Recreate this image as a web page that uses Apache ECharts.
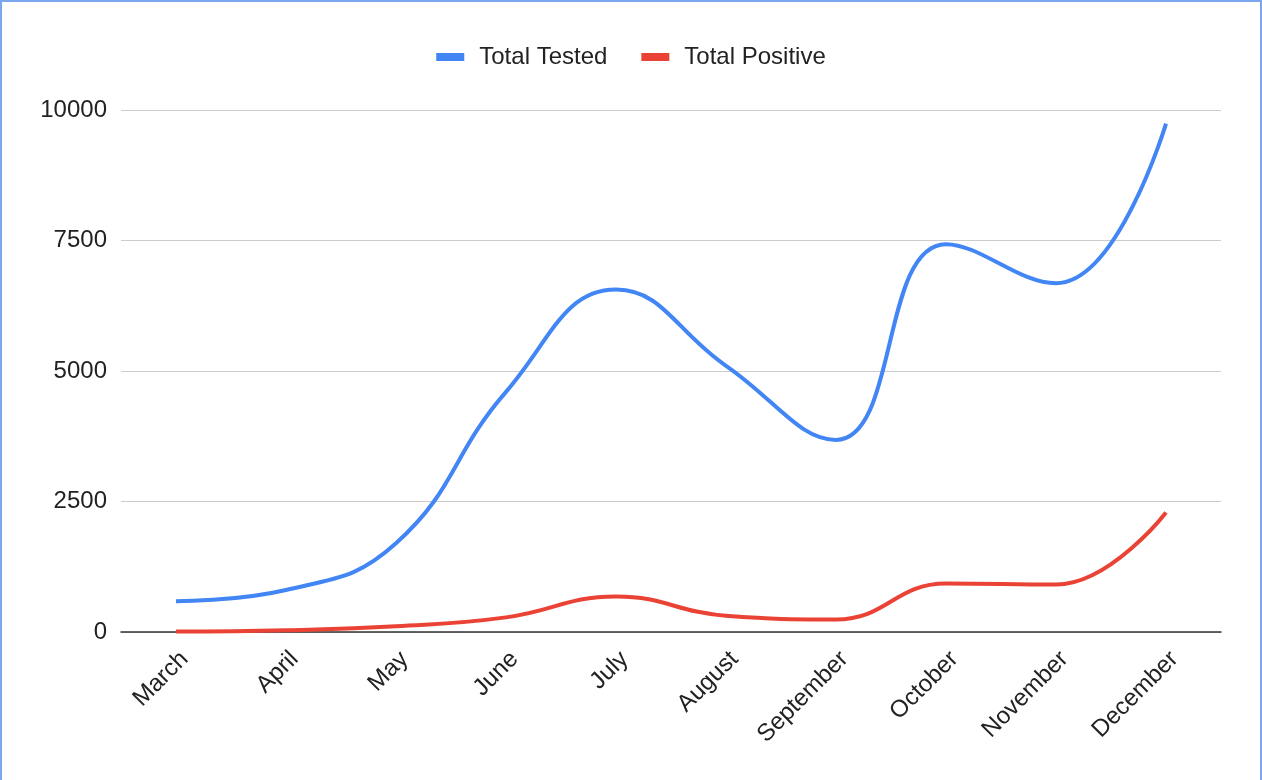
<!DOCTYPE html>
<html>
<head>
<meta charset="utf-8">
<script src="https://cdn.jsdelivr.net/npm/echarts@6/dist/echarts.min.js"></script>
<style>
html,body{margin:0;padding:0;background:#fff;}
#wrap{position:absolute;left:0;top:0;width:1262px;height:780px;box-sizing:border-box;border:2px solid #7ba7f0;border-bottom:none;}
#c{position:absolute;left:0;top:0;width:1262px;height:780px;}
</style>
</head>
<body>
<div id="wrap"></div>
<div id="c"></div>
<script>
const categories = ['March','April','May','June','July','August','September','October','November','December'];
const totalTested = [590, 805, 1700, 4600, 6560, 5100, 3680, 7430, 6680, 9740];
const totalPositive = [10, 35, 110, 280, 680, 310, 240, 930, 910, 2290];
const yTicks = [0, 2500, 5000, 7500, 10000];

const FONT = 'Liberation Sans, Arial, sans-serif';
const chart = echarts.init(document.getElementById('c'));
chart.setOption({
  animation: false,
  backgroundColor: 'transparent',
  legend: {
    top: 40,
    left: 'center',
    itemWidth: 28,
    itemHeight: 8,
    itemGap: 34,
    icon: 'rect',
    textStyle: {fontFamily: FONT, fontSize: 24, color: '#222', padding: [0, 0, 0, 10]},
    data: ['Total Tested', 'Total Positive']
  },
  grid: {left: 121, right: 41, top: 110, bottom: 148, containLabel: false},
  xAxis: {
    type: 'category',
    data: categories,
    boundaryGap: true,
    axisLine: {lineStyle: {color: '#333', width: 1.5}},
    axisTick: {show: false},
    axisLabel: {rotate: 45, fontFamily: FONT, fontSize: 24, color: '#222', margin: 15, verticalAlign: 'top'}
  },
  yAxis: {
    type: 'value',
    min: yTicks[0],
    max: yTicks[yTicks.length - 1],
    interval: 2500,
    axisLine: {show: false},
    axisTick: {show: false},
    splitLine: {lineStyle: {color: '#cccccc', width: 1.2}},
    axisLabel: {fontFamily: FONT, fontSize: 24, color: '#222', margin: 14, formatter: v => String(v)}
  },
  series: [
    {name: 'Total Tested', type: 'line', data: totalTested, smooth: 0.45, showSymbol: false,
     lineStyle: {width: 4, color: '#4285F4'}, itemStyle: {color: '#4285F4'}},
    {name: 'Total Positive', type: 'line', data: totalPositive, smooth: 0.45, showSymbol: false,
     lineStyle: {width: 4, color: '#EA4335'}, itemStyle: {color: '#EA4335'}}
  ]
});
</script>
</body>
</html>
